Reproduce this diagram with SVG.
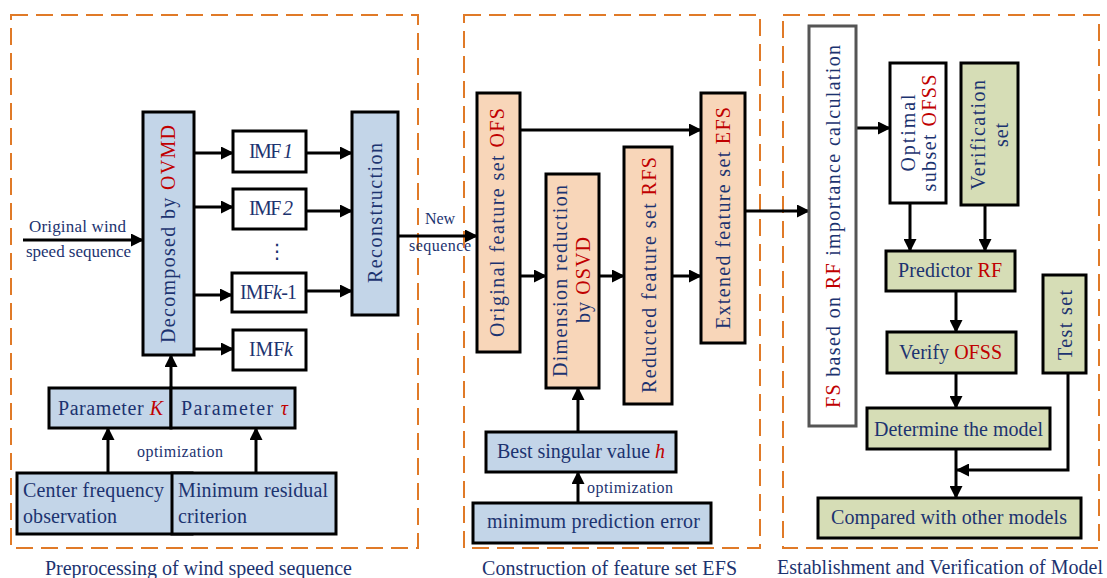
<svg xmlns="http://www.w3.org/2000/svg" width="1107" height="578" viewBox="0 0 1107 578">
<style>
text{font-family:"Liberation Serif","Times New Roman",serif;fill:#1c3370;font-size:20px}
.sm{font-size:16px}
.md{font-size:17px}
.r{fill:#c00000}
.i{font-style:italic}
.panel{fill:none;stroke:#e07a28;stroke-width:2;stroke-dasharray:17 8}
.blue{fill:#c3d5e8;stroke:#000;stroke-width:3}
.peach{fill:#f8d6b9;stroke:#000;stroke-width:3}
.green{fill:#d6ddb6;stroke:#000;stroke-width:3}
.white{fill:#fff;stroke:#000;stroke-width:3}
.gray{fill:#fff;stroke:#555;stroke-width:3}
.c{fill:none;stroke:#000;stroke-width:3;marker-end:url(#ah)}
</style>
<defs>
<marker id="ah" markerWidth="14" markerHeight="13" refX="12" refY="6.5" orient="auto" markerUnits="userSpaceOnUse"><path d="M0,0 L13,6.5 L0,13 z" fill="#000"/></marker>
</defs>
<g id="panels">
<rect class="panel" x="11" y="15" width="407" height="533"/>
<rect class="panel" x="464" y="15" width="296" height="533"/>
<rect class="panel" x="783" y="15" width="316" height="533"/>
<text x="45" y="575" textLength="307">Preprocessing of wind speed sequence</text>
<text x="482" y="575" textLength="255">Construction of feature set EFS</text>
<text x="777" y="574" textLength="326">Establishment and Verification of Model</text>
</g>
<g id="connectors">
<path class="c" d="M23,240 H143"/>
<path class="c" d="M194,153 H233"/>
<path class="c" d="M194,207 H233"/>
<path class="c" d="M194,295 H232"/>
<path class="c" d="M194,349 H233"/>
<path class="c" d="M306,153 H352"/>
<path class="c" d="M306,211 H352"/>
<path class="c" d="M306,291 H352"/>
<path class="c" d="M398,236 H477"/>
<path class="c" d="M171,388 V355"/>
<path class="c" d="M108,473 V428"/>
<path class="c" d="M256,473 V428"/>
<path class="c" d="M520,130 H701"/>
<path class="c" d="M520,276 H546"/>
<path class="c" d="M599,276 H624"/>
<path class="c" d="M672,276 H701"/>
<path class="c" d="M578,432 V388"/>
<path class="c" d="M578,503 V472"/>
<path class="c" d="M745,211 H809"/>
<path class="c" d="M856,128 H890"/>
<path class="c" d="M910,203 V251"/>
<path class="c" d="M985,205 V251"/>
<path class="c" d="M956,291 V332"/>
<path class="c" d="M956,373 V408"/>
<path class="c" d="M956,449 V498"/>
<path class="c" d="M1068,373 V470 H957"/>
</g>
<g id="labels">
<text class="md" x="29" y="232" textLength="97">Original wind</text>
<text class="md" x="26" y="257" textLength="105">speed sequence</text>
<text class="sm" x="425" y="224" textLength="30">New</text>
<text class="sm" x="409" y="251" textLength="62">sequence</text>
<text class="sm" x="137" y="457" textLength="86">optimization</text>
<text class="sm" x="587" y="493" textLength="86">optimization</text>
</g>
<g id="decomposed">
<rect class="blue" x="143" y="112" width="51" height="243"/>
<text x="175" y="234" text-anchor="middle" textLength="218" transform="rotate(-90 175 234)">Decomposed by <tspan class="r">OVMD</tspan></text>
</g>
<g id="imf1">
<rect class="white" x="233" y="131" width="73" height="41"/>
<text x="271" y="158" text-anchor="middle" textLength="44">IMF <tspan class="i">1</tspan></text>
</g>
<g id="imf2">
<rect class="white" x="233" y="189" width="73" height="40"/>
<text x="271" y="215" text-anchor="middle" textLength="44">IMF <tspan class="i">2</tspan></text>
</g>
<g id="dots">
<text x="277" y="258" text-anchor="middle" style="font-family:'DejaVu Sans',sans-serif;font-size:20px">⋮</text>
</g>
<g id="imfk1">
<rect class="white" x="232" y="273" width="74" height="39"/>
<text x="268.5" y="299" text-anchor="middle" textLength="57">IMF<tspan class="i">k</tspan>-1</text>
</g>
<g id="imfk">
<rect class="white" x="233" y="330" width="73" height="40"/>
<text x="271" y="356" text-anchor="middle" textLength="44">IMF<tspan class="i">k</tspan></text>
</g>
<g id="reconstruction">
<rect class="blue" x="352" y="112" width="46" height="203"/>
<text x="382" y="213" text-anchor="middle" textLength="140" transform="rotate(-90 382 213)">Reconstruction</text>
</g>
<g id="paramK">
<rect class="blue" x="49" y="388" width="122" height="40"/>
<text x="58" y="415" textLength="105">Parameter <tspan class="r i">K</tspan></text>
</g>
<g id="paramTau">
<rect class="blue" x="171" y="388" width="124" height="40"/>
<text x="181" y="415" textLength="107">Parameter   <tspan class="r i">τ</tspan></text>
</g>
<g id="centerFreq">
<rect class="blue" x="17" y="473" width="175" height="61"/>
<text x="23" y="497" textLength="141">Center frequency</text>
<text x="23" y="523" textLength="94">observation</text>
</g>
<g id="minResidual">
<rect class="blue" x="172" y="473" width="164" height="61"/>
<text x="178" y="497" textLength="150">Minimum residual</text>
<text x="178" y="523" textLength="69">criterion</text>
</g>
<g id="ofs">
<rect class="peach" x="477" y="93" width="43" height="259"/>
<text x="504" y="222.5" text-anchor="middle" textLength="229" transform="rotate(-90 504 222.5)">Original feature set <tspan class="r">OFS</tspan></text>
</g>
<g id="dimred">
<rect class="peach" x="546" y="174" width="53" height="214"/>
<text x="567" y="281" text-anchor="middle" textLength="192" transform="rotate(-90 567 281)">Dimension reduction</text>
<text x="590" y="280" text-anchor="middle" textLength="86" transform="rotate(-90 590 280)">by <tspan class="r">OSVD</tspan></text>
</g>
<g id="rfs">
<rect class="peach" x="624" y="147" width="48" height="257"/>
<text x="656" y="275" text-anchor="middle" textLength="236" transform="rotate(-90 656 275)">Reducted feature set <tspan class="r">RFS</tspan></text>
</g>
<g id="efs">
<rect class="peach" x="701" y="93" width="44" height="250"/>
<text x="730" y="218" text-anchor="middle" textLength="222" transform="rotate(-90 730 218)">Extened feature set <tspan class="r">EFS</tspan></text>
</g>
<g id="bestSingular">
<rect class="blue" x="486" y="432" width="190" height="40"/>
<text x="497" y="458" textLength="168">Best singular value <tspan class="r i">h</tspan></text>
</g>
<g id="minPred">
<rect class="blue" x="473" y="503" width="238" height="40"/>
<text x="487" y="528" textLength="213">minimum prediction error</text>
</g>
<g id="fsrf">
<rect class="gray" x="809" y="26" width="47" height="400"/>
<text x="840" y="226.5" text-anchor="middle" textLength="363" transform="rotate(-90 840 226.5)"><tspan class="r">FS</tspan> based on <tspan class="r">RF</tspan> importance calculation</text>
</g>
<g id="ofss">
<rect class="white" x="890" y="63" width="56" height="140"/>
<text x="915" y="133" text-anchor="middle" textLength="77" transform="rotate(-90 915 133)">Optimal</text>
<text x="936" y="133" text-anchor="middle" textLength="117" transform="rotate(-90 936 133)">subset <tspan class="r">OFSS</tspan></text>
</g>
<g id="verificationSet">
<rect class="green" x="961" y="63" width="57" height="142"/>
<text x="985" y="135" text-anchor="middle" textLength="110" transform="rotate(-90 985 135)">Verification</text>
<text x="1008" y="135" text-anchor="middle" textLength="24" transform="rotate(-90 1008 135)">set</text>
</g>
<g id="predictor">
<rect class="green" x="886" y="251" width="129" height="40"/>
<text x="898" y="277" textLength="104">Predictor <tspan class="r">RF</tspan></text>
</g>
<g id="testSet">
<rect class="green" x="1043" y="275" width="43" height="98"/>
<text x="1072" y="325" text-anchor="middle" textLength="70" transform="rotate(-90 1072 325)">Test set</text>
</g>
<g id="verify">
<rect class="green" x="887" y="332" width="129" height="41"/>
<text x="899" y="359" textLength="103">Verify <tspan class="r">OFSS</tspan></text>
</g>
<g id="determine">
<rect class="green" x="867" y="408" width="183" height="41"/>
<text x="874" y="436" textLength="169">Determine the model</text>
</g>
<g id="compared">
<rect class="green" x="818" y="498" width="263" height="40"/>
<text x="831" y="524" textLength="236">Compared with other models</text>
</g>
</svg>
